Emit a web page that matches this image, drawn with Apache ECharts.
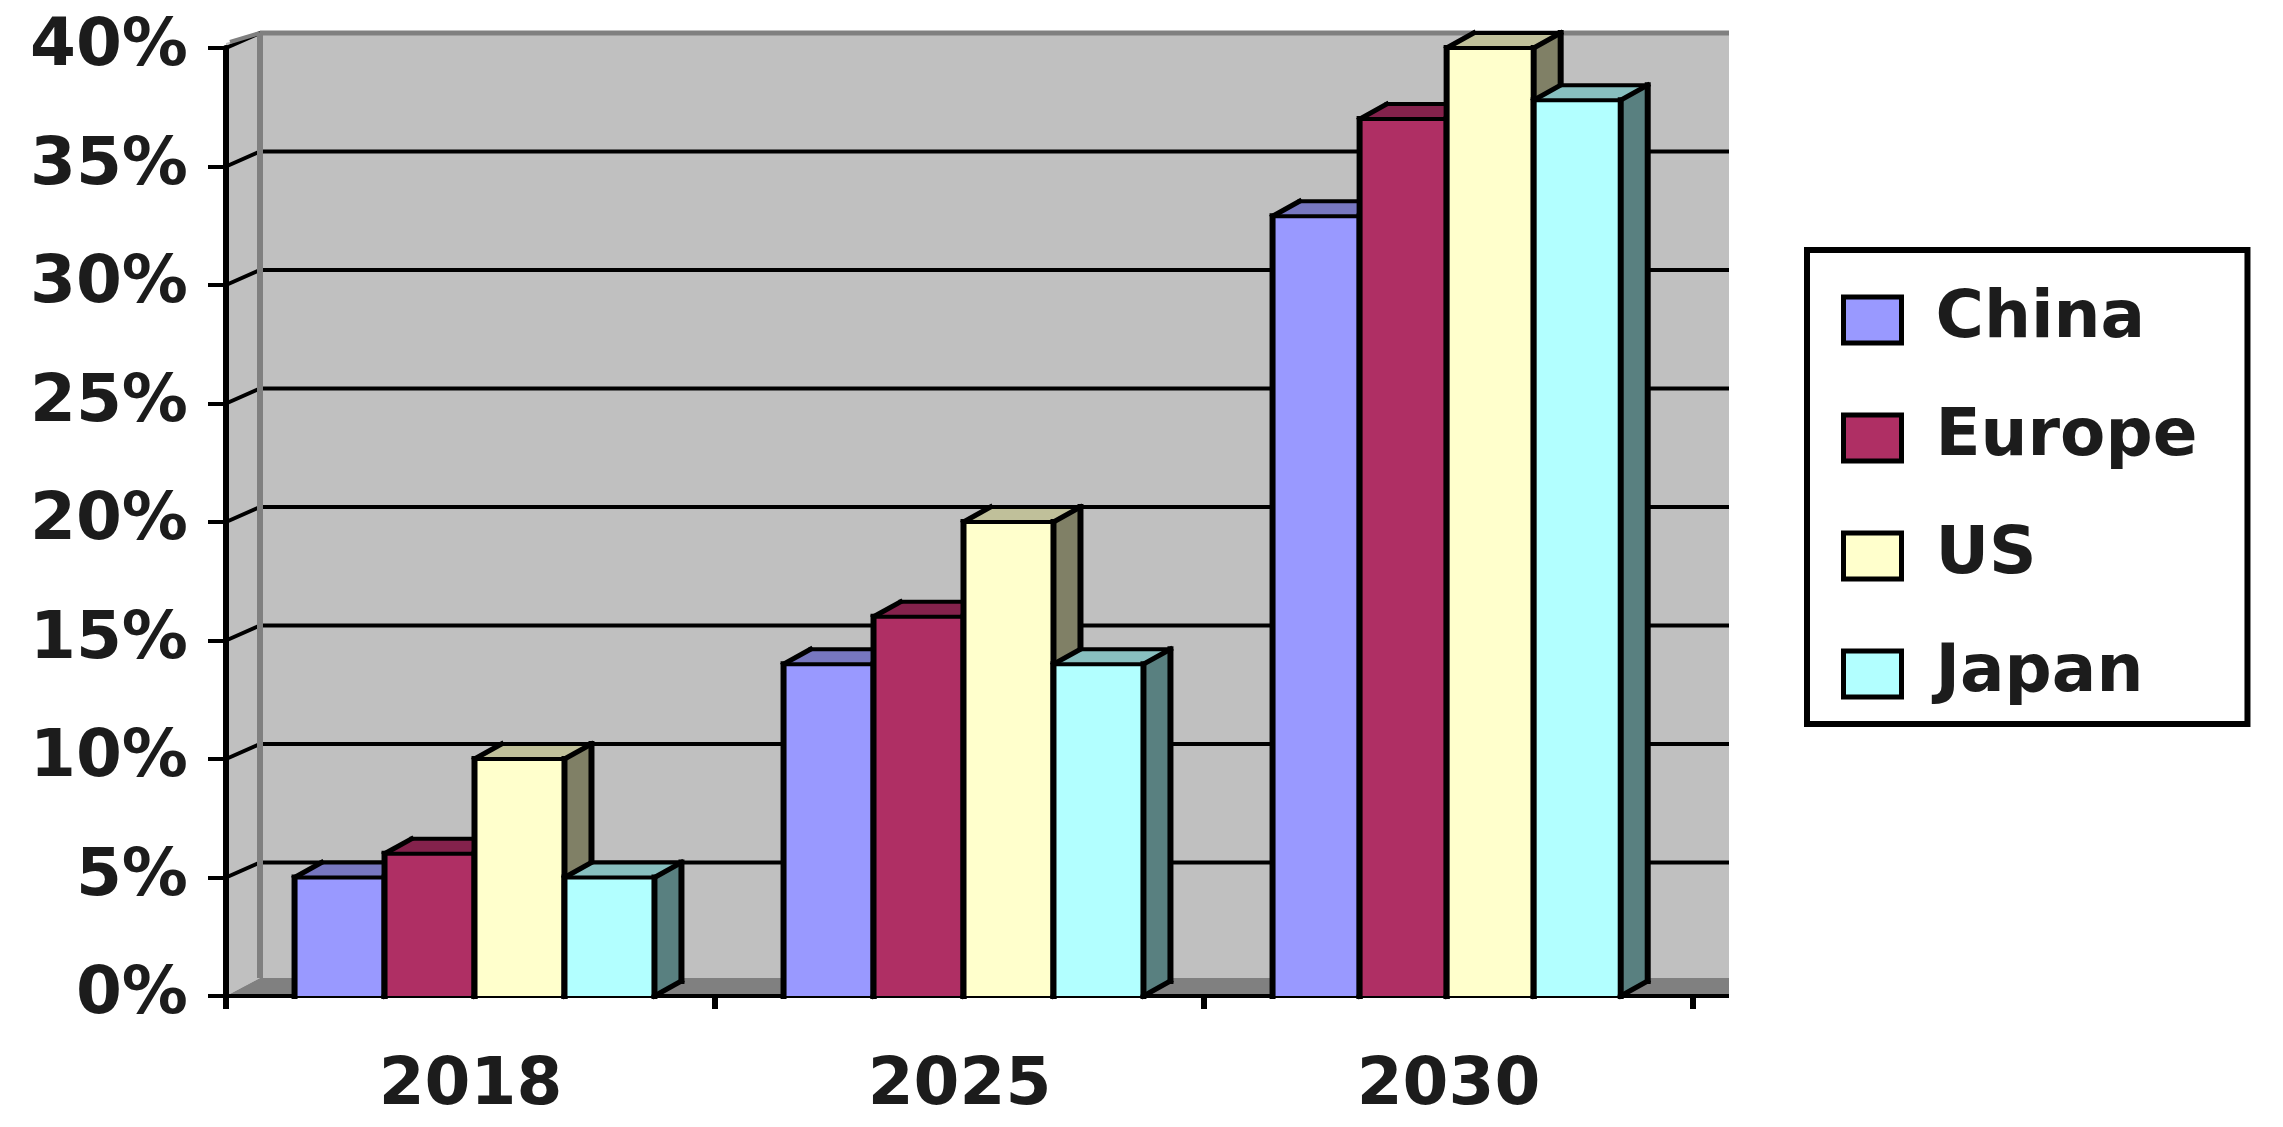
<!DOCTYPE html>
<html>
<head>
<meta charset="utf-8">
<style>
  html, body { margin: 0; padding: 0; background: #fff; }
  #chart { width: 2283px; height: 1127px; }
</style>
<script src="https://cdn.jsdelivr.net/npm/echarts@6/dist/echarts.min.js"></script>
</head>
<body>
<div id="chart"></div>
<script>
const categories = ["2018", "2025", "2030"];
const china = [5, 14, 32.9];
const europe = [6, 16, 37];
const us = [10, 20, 40];
const japan = [5, 14, 37.8];
const tickValues = [0, 5, 10, 15, 20, 25, 30, 35, 40];

const seriesNames = ["China", "Europe", "US", "Japan"];
const seriesValues = [china, europe, us, japan];
const faceColors = ["#9999ff", "#af2f64", "#ffffcc", "#b2ffff"];
const topColors = ["#7777c0", "#84224c", "#c0c09a", "#88bfbf"];
const sideColors = ["#5c5c99", "#691d3c", "#808066", "#598080"];

const FONT = "DejaVu Sans";
const DEPTH_X = 27, DEPTH_Y = 15;
const WALL_X = 34;
const BAR_SHARE = 0.184;
// last group is a bit narrower in the picture
const GROUP_SHARES = [0.184, 0.184, 0.178];
const BAR_SHIFT = 4;
const WALL_OVERHANG = 36;

const chart = echarts.init(document.getElementById("chart"));

function seg(x1, y1, x2, y2, width) {
  return { type: "line", shape: { x1, y1, x2, y2 }, style: { stroke: "#000", lineWidth: width, lineCap: "square" } };
}

function renderBar(i, params, api) {
  const p = api.coord([api.value(0), api.value(1)]);
  const base = api.coord([api.value(0), 0]);
  const band = api.size([1, 0])[0];
  const w = band * GROUP_SHARES[api.value(0)];
  const left = p[0] - 2 * band * BAR_SHARE + i * w + BAR_SHIFT;
  const right = left + w;
  const top = p[1], bot = base[1];
  const backR = right + DEPTH_X, backL = left + DEPTH_X, backTop = top - DEPTH_Y;
  return {
    type: "group",
    children: [
      { type: "polygon", shape: { points: [[right, top], [backR, backTop], [backR, bot - DEPTH_Y], [right, bot]] },
        style: { fill: sideColors[i] } },
      { type: "polygon", shape: { points: [[left, top], [backL, backTop], [backR, backTop], [right, top]] },
        style: { fill: topColors[i] } },
      { type: "rect", shape: { x: left, y: top, width: w, height: bot - top }, style: { fill: faceColors[i] } },
      seg(left, top, backL, backTop, 5),
      seg(right, top, backR, backTop, 5),
      seg(right, bot, backR, bot - DEPTH_Y, 5),
      seg(backL, backTop, backR, backTop, 4),
      seg(backR, backTop, backR, bot - DEPTH_Y, 6),
      seg(left, top, right, top, 4),
      seg(left, top, left, bot, 6),
      seg(right, top, right, bot, 6)
    ]
  };
}

// back wall, floor and side pane sit behind the bars
function renderWall(params, api) {
  const c = params.coordSys;
  const bottom = c.y + c.height, right = c.x + c.width + WALL_OVERHANG;
  const backX = c.x + WALL_X, backTop = c.y - DEPTH_Y, floorY = bottom - 18;
  return {
    type: "group",
    children: [
      { type: "polygon", shape: { points: [[c.x, c.y - 5], [backX, backTop], [backX, floorY], [c.x, bottom]] },
        style: { fill: "#c0c0c0" } },
      { type: "rect", shape: { x: backX, y: backTop, width: right - backX, height: floorY - backTop },
        style: { fill: "#c0c0c0" } },
      { type: "polygon", shape: { points: [[c.x, bottom], [backX, floorY], [right, floorY], [right, bottom]] },
        style: { fill: "#808080" } }
    ]
  };
}

function renderGridLine(params, api) {
  const c = params.coordSys;
  const p = api.coord([0, api.value(0)]);
  const right = c.x + c.width + WALL_OVERHANG;
  return {
    type: "polyline",
    shape: { points: [[c.x, p[1]], [c.x + WALL_X, p[1] - DEPTH_Y], [right, p[1] - DEPTH_Y]] },
    style: { fill: null, stroke: "#000", lineWidth: 4 }
  };
}

// grey wall edges and the front floor line, over the grid lines
function renderEdges(params, api) {
  const c = params.coordSys;
  const bottom = c.y + c.height, right = c.x + c.width + WALL_OVERHANG;
  const backX = c.x + WALL_X, backTop = c.y - DEPTH_Y;
  return {
    type: "group",
    children: [
      { type: "line", shape: { x1: c.x + 4, y1: c.y - 6, x2: backX, y2: backTop }, style: { stroke: "#808080", lineWidth: 4 } },
      { type: "line", shape: { x1: backX, y1: backTop, x2: right, y2: backTop }, style: { stroke: "#808080", lineWidth: 5 } },
      { type: "line", shape: { x1: backX, y1: backTop, x2: backX, y2: bottom - 18 }, style: { stroke: "#808080", lineWidth: 6 } },
      { type: "line", shape: { x1: c.x, y1: bottom, x2: right, y2: bottom }, style: { stroke: "#000", lineWidth: 4 } }
    ]
  };
}

const options = {
  animation: false,
  backgroundColor: "#fff",
  grid: { left: 226, right: 590, top: 48, bottom: 131, containLabel: false },
  legend: {
    data: seriesNames,
    orient: "vertical",
    left: 1807,
    top: 250,
    icon: "rect",
    itemWidth: 58,
    itemHeight: 46,
    itemGap: 52,
    padding: [37, 50, 17, 34],
    borderColor: "#000",
    borderWidth: 6,
    backgroundColor: "#fff",
    itemStyle: { borderColor: "#000", borderWidth: 5 },
    textStyle: { fontFamily: FONT, fontSize: 66, fontWeight: "bold", color: "#1c1c1c", padding: [8, 0, 0, 29] }
  },
  xAxis: {
    type: "category",
    data: categories,
    boundaryGap: true,
    axisLine: { show: false },
    axisTick: { show: true, alignWithLabel: false, length: 13, lineStyle: { color: "#000", width: 6 } },
    axisLabel: { fontFamily: FONT, fontSize: 66, fontWeight: "bold", color: "#1c1c1c", margin: 58 }
  },
  yAxis: {
    type: "value",
    z: 5,
    min: 0,
    max: 40,
    interval: 5,
    axisLine: { show: true, lineStyle: { color: "#000", width: 6 } },
    axisTick: { show: true, length: 18, lineStyle: { color: "#000", width: 4 } },
    splitLine: { show: false },
    axisLabel: { fontFamily: FONT, fontSize: 66, fontWeight: "bold", color: "#1c1c1c", margin: 38, formatter: "{value}%" }
  },
  series: [
    { type: "custom", silent: true, z: 1, data: [0], renderItem: renderWall, encode: { x: [], y: [] } },
    { type: "custom", silent: true, z: 2, data: tickValues.slice(1).map(v => [v]), renderItem: renderGridLine, encode: { y: 0, x: [] } },
    { type: "custom", silent: true, z: 3, data: [0], renderItem: renderEdges, encode: { x: [], y: [] } },
    ...seriesNames.map((name, i) => ({
      name,
      type: "custom",
      z: 4,
      itemStyle: { color: faceColors[i] },
      data: categories.map((c, k) => [k, seriesValues[i][k]]),
      encode: { x: 0, y: 1 },
      renderItem: (params, api) => renderBar(i, params, api)
    }))
  ]
};

chart.setOption(options);
</script>
</body>
</html>
